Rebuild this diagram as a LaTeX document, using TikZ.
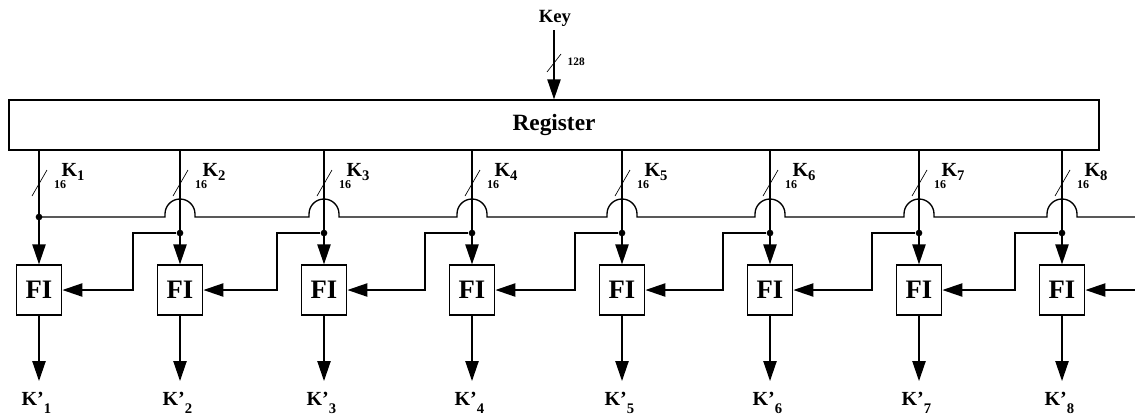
\documentclass[tikz,border=0pt]{standalone}
\usepackage{fontspec}
\setmainfont{Liberation Serif}
\usetikzlibrary{arrows.meta}

\begin{document}
\begin{tikzpicture}[x=0.75pt, y=-0.75pt, line width=1pt,
    >={Triangle[length=15pt, width=10pt]},
    fibox/.style={draw, minimum width=34.2pt, minimum height=37.5pt, inner sep=0pt, font=\bfseries\fontsize{20}{20}\selectfont},
    lbl/.style={font=\bfseries\fontsize{15}{15}\selectfont, inner sep=0pt},
    width/.style={font=\bfseries\fontsize{9}{9}\selectfont, inner sep=0pt},
    slash/.style={line width=0.5pt},
    dot/.style={circle, fill, inner sep=0pt, minimum size=5pt}]
    \newcommand{\lowsub}[2]{\raisebox{-#1}{\fontsize{11}{11}\selectfont #2}}
    \useasboundingbox (0,0) rectangle (1135,415);

    \node[draw, minimum width=817.5pt, minimum height=37.5pt, inner sep=0pt,
          font=\bfseries\fontsize{17.5}{17.5}\selectfont] (reg) at (554,125) {Register};
    \node[lbl, font=\bfseries\fontsize{14}{14}\selectfont, anchor=base] (key) at (555,22) {Key};
    \coordinate (keyin) at (554,30);
    \draw[->] (keyin) -- (reg.north -| keyin);
    \draw[slash] (547,72) -- (561,54);
    \node[width, font=\bfseries\fontsize{8.5}{8.5}\selectfont, anchor=base west] (kw) at (567,65) {128};

    % the K1 bus, hopping over the other taps
    \coordinate (bus) at (1135,217);
    \draw (39,217) -- (165,217) -- ++(0,-3) arc (180:360:15) -- ++(0,3)
        -- (309,217) -- ++(0,-3) arc (180:360:15) -- ++(0,3)
        -- (457,217) -- ++(0,-3) arc (180:360:15) -- ++(0,3)
        -- (607,217) -- ++(0,-3) arc (180:360:15) -- ++(0,3)
        -- (755,217) -- ++(0,-3) arc (180:360:15) -- ++(0,3)
        -- (904,217) -- ++(0,-3) arc (180:360:15) -- ++(0,3)
        -- (1047,217) -- ++(0,-3) arc (180:360:15) -- ++(0,3) -- (bus);

    \foreach \i/\x in {1/39, 2/180, 3/324, 4/472, 5/622, 6/770, 7/919, 8/1062} {
        \node[fibox] (fi\i) at (\x,290) {FI};
        \node[lbl, anchor=base west] (ko\i) at (\x-18,405) {K’\lowsub{6pt}{\i}};
        \coordinate (tap\i) at (\x,150);
        \node[lbl, anchor=base west] (kn\i) at (\x+22,176) {K\lowsub{3pt}{\i}};
        \node[width, anchor=base] (w\i) at (\x+21,188) {16};
        \draw[slash] (\x-7,196) -- (\x+8,170);
        \draw[->] (fi\i) -- (\x,381);
    }
    \node[dot] (d1) at (39,217) {};
    \draw[->] (tap1) -- (fi1);

    \foreach \i/\j in {2/1, 3/2, 4/3, 5/4, 6/5, 7/6, 8/7} {
        \node[dot] (d\i) at (fi\i.north |- 0,233) {};
        \draw[->] (tap\i) -- (fi\i);
        \draw[->] (d\i) -- ++(-47,0) |- (fi\j);
    }
    \draw[->] (fi8.east -| bus) -- (fi8);
\end{tikzpicture}
\end{document}
